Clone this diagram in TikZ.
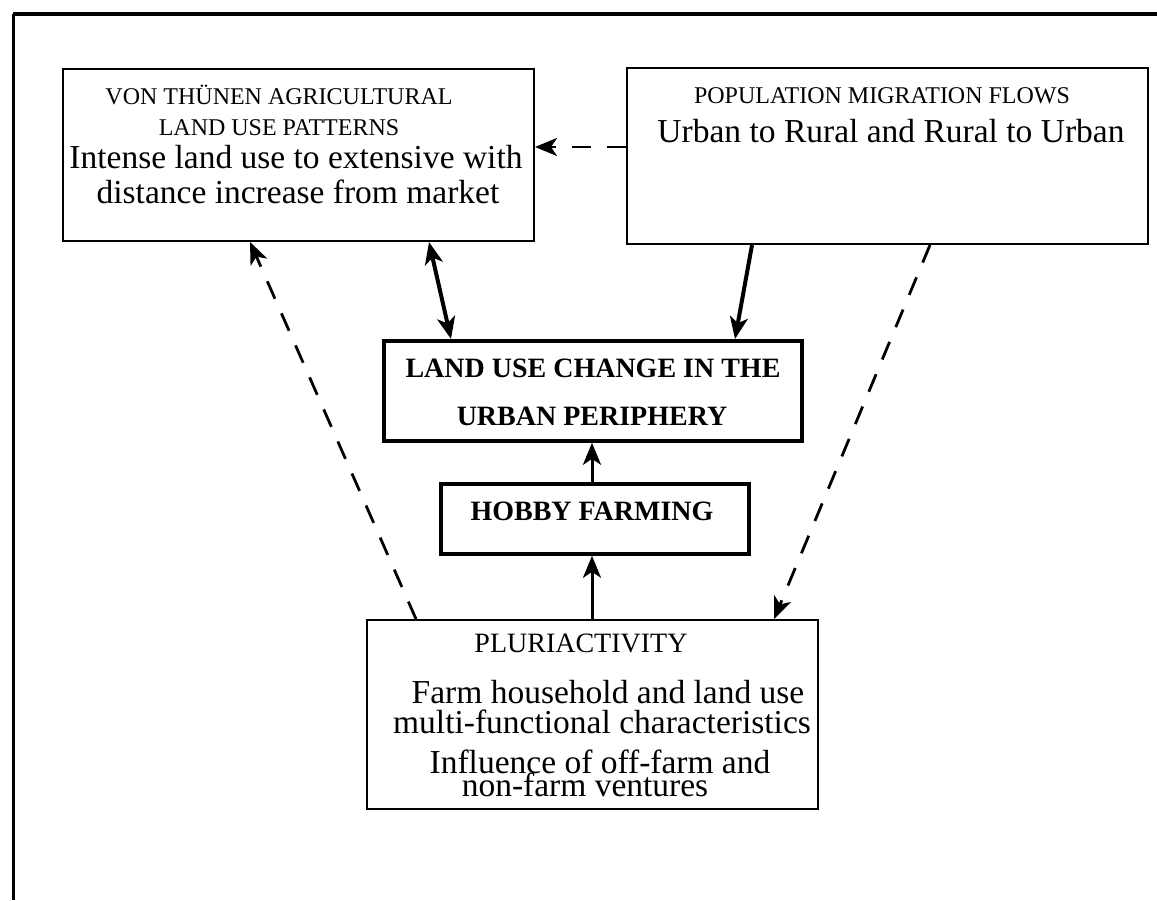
\documentclass[tikz,border=0pt]{standalone}
\usepackage{fontspec}
\setmainfont{Liberation Serif}
\usetikzlibrary{arrows.meta}
\tikzset{
  x=1pt, y=-1pt,
  thinbox/.style={draw, line width=2pt, anchor=north west, inner sep=0pt},
  thickbox/.style={draw, line width=3.8pt, anchor=north west, inner sep=0pt},
  captext/.style={anchor=base, inner sep=0pt, font=\fontsize{24}{28}\selectfont},
  bodytext/.style={anchor=base, inner sep=0pt, font=\fontsize{33.5}{36}\selectfont},
  boldtext/.style={anchor=base, inner sep=0pt, font=\fontsize{28}{32}\selectfont\bfseries},
  arrowtip/.style={-{Stealth[length=22pt,width=18pt,inset=6pt]}},
  solidarrow/.style={arrowtip, line width=3pt},
  heavyarrow/.style={arrowtip, line width=4pt},
  dasharrow/.style={arrowtip, line width=2.8pt, dash pattern=on 19pt off 16pt},
}
\begin{document}
\begin{tikzpicture}
\useasboundingbox (0,0) rectangle (1157,900);
% frame
\draw[line width=4pt] (13,14) -- (1157,14);
\draw[line width=3pt] (13,14) -- (13,900);
% boxes
\node[thinbox, minimum width=471pt, minimum height=172pt] (vt) at (62,68) {};
\node[thinbox, minimum width=521pt, minimum height=176pt] (pop) at (626,67) {};
\node[thickbox, minimum width=418pt, minimum height=100pt] (land) at (382,339) {};
\node[thickbox, minimum width=308pt, minimum height=70pt] (hobby) at (439,482) {};
\node[thinbox, minimum width=451pt, minimum height=189pt] (pluri) at (366,619) {};
% texts
\node[captext] (vt1) at (279,104) {VON THÜNEN AGRICULTURAL};
\node[captext] (vt2) at (279,135) {LAND USE PATTERNS};
\node[bodytext] (vt3) at (296,168) {Intense land use to extensive with};
\node[bodytext] (vt4) at (298,203) {distance increase from market};
\node[captext] (pop1) at (882,103) {POPULATION MIGRATION FLOWS};
\node[bodytext] (pop2) at (891,142) {Urban to Rural and Rural to Urban};
\node[boldtext] (land1) at (593,377) {LAND USE CHANGE IN THE};
\node[boldtext] (land2) at (592,425) {URBAN PERIPHERY};
\node[boldtext] (hob1) at (592,520) {HOBBY FARMING};
\node[anchor=base, inner sep=0pt, font=\fontsize{28}{32}\selectfont] (pl1) at (581,652) {PLURIACTIVITY};
\node[bodytext] (pl2) at (608,703) {Farm household and land use};
\node[bodytext] (pl3) at (602,733) {multi-functional characteristics};
\node[bodytext] (pl4) at (600,773) {Influence of off-farm and};
\node[bodytext] (pl5) at (585,796) {non-farm ventures};
% connectors
\draw[dasharrow] (pop.west |- 0,147) -- (vt.east |- 0,147);
\draw[line width=4pt, {Stealth[length=22pt,width=18pt,inset=6pt]}-{Stealth[length=22pt,width=18pt,inset=6pt]}] (429,0 |- vt.south) -- (451,0 |- land.north);
\draw[heavyarrow] (752,0 |- pop.south) -- (735,0 |- land.north);
\draw[dasharrow] (930,0 |- pop.south) -- (774,0 |- pluri.north);
\draw[dasharrow] (416,0 |- pluri.north) -- (250,0 |- vt.south);
\draw[solidarrow] (592,0 |- pluri.north) -- (592,0 |- hobby.south);
\draw[solidarrow] (592,0 |- hobby.north) -- (592,0 |- land.south);
\end{tikzpicture}
\end{document}
